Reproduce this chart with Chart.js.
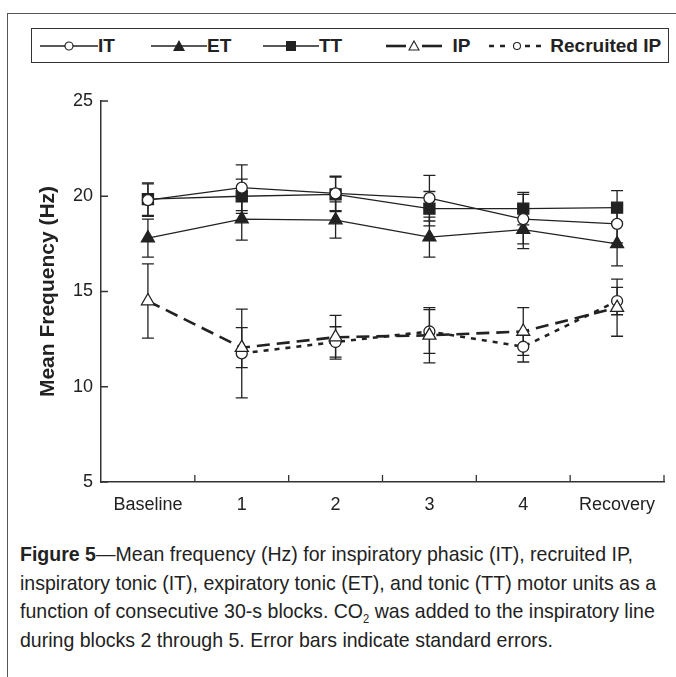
<!DOCTYPE html>
<html lang="en">
<head>
  <meta charset="UTF-8" />
  <title>Figure 5</title>
  <script src="https://cdn.jsdelivr.net/npm/chart.js"></script>
  <style>
    html, body { margin: 0; padding: 0; background: #fff; }
    body {
      width: 676px; height: 677px; position: relative; overflow: hidden;
      font-family: 'Liberation Sans Narrow', 'Liberation Sans', Arial, sans-serif;
      color: #222;
    }
    .frame {
      position: absolute; left: 7px; top: 13px; width: 700px; height: 700px;
      border-left: 1.5px solid #555; border-top: 1.5px solid #555;
    }
    .legend {
      position: absolute; left: 31px; top: 28px; width: 636px; height: 33px;
      border: 1.5px solid #333;
    }
    .legend .item {
      position: absolute; top: 0; height: 33px; display: flex; align-items: center;
      font-weight: bold; font-size: 19px;
    }
    .legend svg { display: block; }
    .chart-box { position: absolute; left: 0; top: 60px; width: 676px; height: 470px; }
    .caption {
      position: absolute; left: 20px; top: 540px; width: 700px;
      font-size: 21px; line-height: 28.5px; color: #222;
      transform: scaleX(0.93); transform-origin: left top;
      white-space: nowrap;
    }
    .caption sub { font-size: 12px; line-height: 0; vertical-align: -5px; }
  </style>
</head>
<body>
  <div class="frame"></div>

  <!-- legend -->
  <div class="legend">
    <div class="item" style="left:8px">
      <svg width="58" height="14"><line x1="0" y1="7" x2="58" y2="7" stroke="#222" stroke-width="1.3"/><circle cx="29" cy="7" r="4" fill="#fff" stroke="#222" stroke-width="1.2"/></svg>IT
    </div>
    <div class="item" style="left:119px">
      <svg width="56" height="14"><line x1="0" y1="7" x2="56" y2="7" stroke="#222" stroke-width="1.3"/><polygon points="28,1 34,12 22,12" fill="#222"/></svg>ET
    </div>
    <div class="item" style="left:231px">
      <svg width="56" height="14"><line x1="0" y1="7" x2="56" y2="7" stroke="#222" stroke-width="1.3"/><rect x="23" y="2" width="10" height="10" fill="#222"/></svg>TT
    </div>
    <div class="item" style="left:354px">
      <svg width="56" height="14"><line x1="0" y1="7" x2="20" y2="7" stroke="#222" stroke-width="2.6"/><line x1="36" y1="7" x2="56" y2="7" stroke="#222" stroke-width="2.6"/><polygon points="28,2 33,11 23,11" fill="#fff" stroke="#222" stroke-width="1.1"/></svg>&nbsp;&nbsp;IP
    </div>
    <div class="item" style="left:457px">
      <svg width="56" height="14"><line x1="0" y1="7" x2="20" y2="7" stroke="#222" stroke-width="2.6" stroke-dasharray="5,6"/><line x1="36" y1="7" x2="56" y2="7" stroke="#222" stroke-width="2.6" stroke-dasharray="5,6"/><circle cx="28" cy="7" r="3.5" fill="#fff" stroke="#222" stroke-width="1.1"/></svg>&nbsp;Recruited IP
    </div>
  </div>

  <div class="chart-box"><canvas id="freqChart"></canvas></div>

  <div class="caption">
    <b>Figure 5</b>—Mean frequency (Hz) for inspiratory phasic (IT), recruited IP,<br>
    inspiratory tonic (IT), expiratory tonic (ET), and tonic (TT) motor units as a<br>
    function of consecutive 30-s blocks. CO<sub>2</sub> was added to the inspiratory line<br>
    during blocks 2 through 5. Error bars indicate standard errors.
  </div>

  <script>
    // blocks on the x axis
    const blocks = ["Baseline", "1", "2", "3", "4", "Recovery"];
    const yTicks = [5, 10, 15, 20, 25];

    // mean frequency (Hz) and standard errors
    const itMean = [19.8, 20.45, 20.15, 19.9, 18.8, 18.55];
    const itSE   = [0.85, 1.2, 0.9, 1.2, 1.3, 1.0];
    const etMean = [17.8, 18.8, 18.75, 17.85, 18.25, 17.5];
    const etSE   = [1.0, 1.1, 0.95, 1.05, 1.0, 1.15];
    const ttMean = [19.85, 20.0, 20.1, 19.35, 19.35, 19.4];
    const ttSE   = [0.85, 0.9, 0.9, 0.9, 0.85, 0.9];
    const ipMean = [14.5, 12.05, 12.6, 12.7, 12.9, 14.15];
    const ipSE   = [1.95, 1.05, 1.15, 1.45, 1.25, 1.5];
    const recMean = [null, 11.75, 12.35, 12.9, 12.1, 14.5];
    const recSE   = [null, 2.33, 0.8, 1.15, 0.8, 0.72];

    const ink = "#222";

    // error bars drawn under the markers
    const errorBars = {
      id: "errorBars",
      beforeDatasetsDraw(chart) {
        const { ctx, scales: { x, y } } = chart;
        ctx.save();
        ctx.strokeStyle = ink;
        ctx.lineWidth = 1.3;
        chart.data.datasets.forEach(ds => {
          ds.data.forEach((v, i) => {
            if (v == null || ds.se[i] == null) return;
            const px = x.getPixelForValue(i);
            const top = y.getPixelForValue(v + ds.se[i]);
            const bot = y.getPixelForValue(v - ds.se[i]);
            ctx.beginPath();
            ctx.moveTo(px, top); ctx.lineTo(px, bot);
            ctx.moveTo(px - 6, top); ctx.lineTo(px + 6, top);
            ctx.moveTo(px - 6, bot); ctx.lineTo(px + 6, bot);
            ctx.stroke();
          });
        });
        ctx.restore();
      }
    };

    // inward tick marks on both axes
    const innerTicks = {
      id: "innerTicks",
      afterDraw(chart) {
        const { ctx, scales: { x, y } } = chart;
        ctx.save();
        ctx.strokeStyle = "#333";
        ctx.lineWidth = 1.3;
        ctx.beginPath();
        yTicks.forEach(t => {
          const py = y.getPixelForValue(t);
          ctx.moveTo(x.left, py); ctx.lineTo(x.left + 7, py);
        });
        const step = (x.right - x.left) / blocks.length;
        for (let i = 1; i <= blocks.length; i++) {
          const px = x.left + i * step;
          ctx.moveTo(px, y.bottom); ctx.lineTo(px, y.bottom - 7);
        }
        ctx.stroke();
        ctx.restore();
      }
    };

    const font = { family: "'Liberation Sans Narrow', 'Liberation Sans', Arial, sans-serif", size: 18 };

    new Chart(document.getElementById("freqChart"), {
      type: "line",
      data: {
        labels: blocks,
        datasets: [
          { label: "IT", data: itMean, se: itSE, borderColor: ink, borderWidth: 1.3,
            pointStyle: "circle", pointRadius: 5.5, pointBackgroundColor: "#fff", pointBorderColor: ink, pointBorderWidth: 1.3 },
          { label: "ET", data: etMean, se: etSE, borderColor: ink, borderWidth: 1.3,
            pointStyle: "triangle", pointRadius: 7.5, pointBackgroundColor: ink, pointBorderColor: ink },
          { label: "TT", data: ttMean, se: ttSE, borderColor: ink, borderWidth: 1.3,
            pointStyle: "rect", pointRadius: 7.8, pointBackgroundColor: ink, pointBorderColor: ink },
          { label: "IP", data: ipMean, se: ipSE, borderColor: ink, borderWidth: 2.6, borderDash: [13, 7],
            pointStyle: "triangle", pointRadius: 7.5, pointBackgroundColor: "#fff", pointBorderColor: ink, pointBorderWidth: 1.3 },
          { label: "Recruited IP", data: recMean, se: recSE, borderColor: ink, borderWidth: 2.6, borderDash: [5, 6],
            pointStyle: "circle", pointRadius: 5.5, pointBackgroundColor: "#fff", pointBorderColor: ink, pointBorderWidth: 1.3 }
        ]
      },
      options: {
        responsive: true,
        maintainAspectRatio: false,
        animation: false,
        layout: { padding: { top: 41, bottom: 8, left: 0, right: 12 } },
        plugins: { legend: { display: false }, tooltip: { enabled: false } },
        scales: {
          x: {
            offset: true,
            grid: { display: false, drawTicks: false },
            border: { display: true, color: "#333", width: 1.5 },
            ticks: { color: ink, font: font, padding: 12 },
            afterFit: s => { s.height = 40; }
          },
          y: {
            min: 5, max: 25,
            grid: { display: false, drawTicks: false },
            border: { display: true, color: "#333", width: 1.5 },
            ticks: { stepSize: 5, color: ink, font: font, padding: 8 },
            title: {
              display: true, text: "Mean Frequency (Hz)", color: ink,
              font: { family: font.family, size: 21, weight: "bold" },
              padding: { top: 36, bottom: 0 }
            },
            afterFit: s => { s.width = 101; }
          }
        }
      },
      plugins: [errorBars, innerTicks]
    });
  </script>
</body>
</html>
